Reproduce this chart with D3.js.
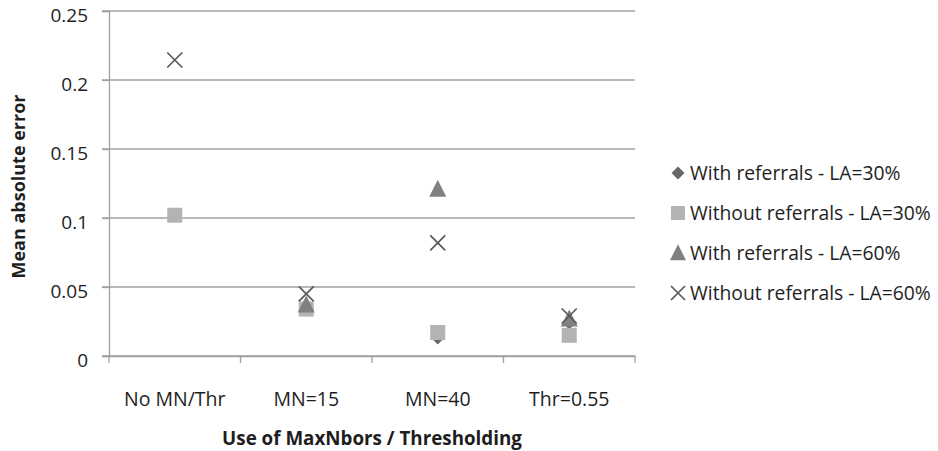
<!DOCTYPE html>
<html>
<head>
<meta charset="utf-8">
<script src="https://cdn.jsdelivr.net/npm/d3@7"></script>
<style>
  html, body { margin: 0; padding: 0; background: #fff; }
  svg { display: block; font-family: "Open Sans", "DejaVu Sans", sans-serif; }
</style>
</head>
<body>
<svg id="chart" width="938" height="451"></svg>
<script>
const categories = ["No MN/Thr", "MN=15", "MN=40", "Thr=0.55"];
const seriesNames = [
  "With referrals - LA=30%",
  "Without referrals - LA=30%",
  "With referrals - LA=60%",
  "Without referrals - LA=60%"
];
const withRef30 = [0.102, 0.036, 0.013, 0.024];
const withoutRef30 = [0.102, 0.034, 0.017, 0.015];
const withRef60 = [null, 0.037, 0.121, 0.027];
const withoutRef60 = [0.2145, 0.045, 0.082, 0.029];
const yTicks = [0, 0.05, 0.1, 0.15, 0.2, 0.25];
const yTickLabels = ["0", "0.05", "0.1", "0.15", "0.2", "0.25"];
const xTitle = "Use of MaxNbors / Thresholding";
const yTitle = "Mean absolute error";

const series = [
  { name: seriesNames[0], values: withRef30, shape: "diamond", color: "#666666" },
  { name: seriesNames[1], values: withoutRef30, shape: "square", color: "#b3b3b3" },
  { name: seriesNames[2], values: withRef60, shape: "triangle", color: "#808080" },
  { name: seriesNames[3], values: withoutRef60, shape: "cross", color: "#595959" }
];

const svg = d3.select("#chart");
const pLeft = 109, pRight = 635, pTop = 11, pBottom = 356;
const x = d3.scaleBand().domain(categories).range([pLeft, pRight]);
const y = d3.scaleLinear().domain([0, 0.25]).range([pBottom, pTop]);
const gridColor = "#a0a0a0";
const textColor = "#1e1e1e";

// gridlines
svg.append("g").selectAll("line").data(yTicks).join("line")
  .attr("x1", pLeft - 7).attr("x2", pRight)
  .attr("y1", d => y(d)).attr("y2", d => y(d))
  .attr("stroke", gridColor).attr("stroke-width", 1.3);

// y axis
const yAxis = svg.append("g").attr("transform", `translate(${pLeft},0)`)
  .call(d3.axisLeft(y).tickValues(yTicks).tickFormat((d, i) => yTickLabels[i]).tickSize(7).tickPadding(14));
yAxis.select(".domain").attr("stroke", gridColor).attr("stroke-width", 1.3);
yAxis.selectAll(".tick line").attr("stroke", gridColor).attr("stroke-width", 1.3);
yAxis.selectAll(".tick text").attr("font-size", 19).attr("fill", textColor).attr("font-family", "Open Sans")
  .attr("y", 4);

// x axis
const xAxis = svg.append("g").attr("transform", `translate(0,${pBottom})`)
  .call(d3.axisBottom(x).tickSize(0).tickPadding(36));
xAxis.select(".domain").attr("stroke", gridColor).attr("stroke-width", 1.3);
xAxis.selectAll(".tick text").attr("font-size", 19.5).attr("fill", textColor).attr("font-family", "Open Sans");
// category separator ticks
const seps = categories.map(c => x(c)).concat([pRight]);
svg.append("g").selectAll("line").data(seps).join("line")
  .attr("x1", d => d).attr("x2", d => d)
  .attr("y1", pBottom).attr("y2", pBottom + 7)
  .attr("stroke", gridColor).attr("stroke-width", 1.3);

// marker drawing
function drawMarker(g, shape, color, s) {
  if (shape === "diamond") {
    g.append("path").attr("d", `M0,${-s}L${s},0L0,${s}L${-s},0Z`).attr("fill", color);
  } else if (shape === "square") {
    g.append("rect").attr("x", -s).attr("y", -s).attr("width", 2 * s).attr("height", 2 * s).attr("fill", color);
  } else if (shape === "triangle") {
    g.append("path").attr("d", `M0,${-s * 1.1}L${s},${s * 0.9}L${-s},${s * 0.9}Z`).attr("fill", color);
  } else if (shape === "cross") {
    g.append("path").attr("d", `M${-s},${-s}L${s},${s}M${s},${-s}L${-s},${s}`)
      .attr("stroke", color).attr("stroke-width", 1.7).attr("fill", "none");
  }
}
const markerSize = { diamond: 6.5, square: 7.5, triangle: 8.5, cross: 7.5 };

series.forEach(s => {
  const g = svg.append("g");
  s.values.forEach((v, i) => {
    if (v === null) return;
    const m = g.append("g").attr("transform", `translate(${x(categories[i]) + x.bandwidth() / 2},${y(v)})`);
    drawMarker(m, s.shape, s.color, markerSize[s.shape]);
  });
});

// legend
const legendY = [173, 213, 253, 293];
const legendSize = { diamond: 6.5, square: 7, triangle: 8, cross: 7 };
series.forEach((s, i) => {
  const g = svg.append("g").attr("transform", `translate(678,${legendY[i]})`);
  drawMarker(g, s.shape, s.color, legendSize[s.shape]);
  g.append("text").attr("x", 12).attr("y", 0).attr("dy", "0.35em")
    .attr("font-size", 19.3).attr("fill", textColor).text(s.name);
});

// axis titles
svg.append("text").attr("x", (pLeft + pRight) / 2).attr("y", 438).attr("dy", "0.35em")
  .attr("text-anchor", "middle").attr("font-weight", "bold").attr("font-size", 18.8).attr("fill", textColor)
  .text(xTitle);
svg.append("text").attr("transform", `translate(19,${(pTop + pBottom) / 2 + 3}) rotate(-90)`)
  .attr("dy", "0.35em").attr("text-anchor", "middle").attr("font-weight", "bold").attr("font-size", 18).attr("fill", textColor)
  .text(yTitle);
</script>
</body>
</html>
